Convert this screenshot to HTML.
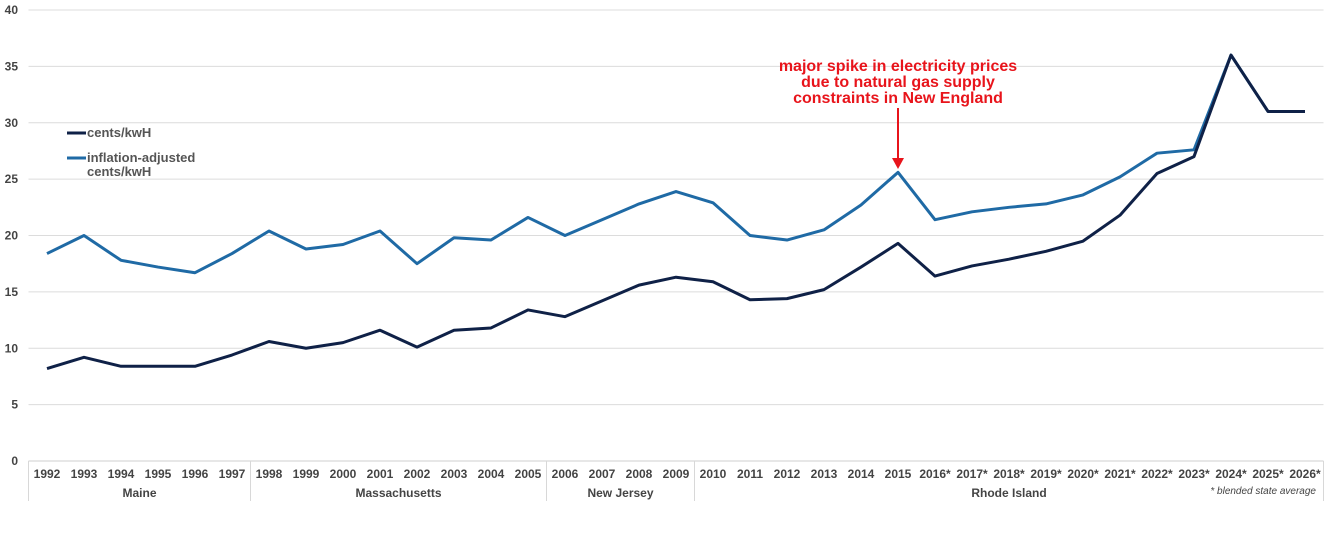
<!DOCTYPE html>
<html><head><meta charset="utf-8"><style>
body{margin:0;background:#fff;}
svg{display:block;font-family:"Liberation Sans",Arial,sans-serif;}
</style></head><body>
<svg id="chart" width="1331" height="541"></svg>
<script>
const categories=["1992","1993","1994","1995","1996","1997","1998","1999","2000","2001","2002","2003","2004","2005","2006","2007","2008","2009","2010","2011","2012","2013","2014","2015","2016*","2017*","2018*","2019*","2020*","2021*","2022*","2023*","2024*","2025*","2026*"];
const centsValues=[8.2,9.2,8.4,8.4,8.4,9.4,10.6,10.0,10.5,11.6,10.1,11.6,11.8,13.4,12.8,14.2,15.6,16.3,15.9,14.3,14.4,15.2,17.2,19.3,16.4,17.3,17.9,18.6,19.5,21.8,25.5,27.0,36,31,31];
const adjustedValues=[18.4,20.0,17.8,17.2,16.7,18.4,20.4,18.8,19.2,20.4,17.5,19.8,19.6,21.6,20.0,21.4,22.8,23.9,22.9,20.0,19.6,20.5,22.7,25.6,21.4,22.1,22.5,22.8,23.6,25.2,27.3,27.6,36,31,31];
const yTicks=[0,5,10,15,20,25,30,35,40];
const groups=[{name:"Maine",start:0,end:5},{name:"Massachusetts",start:6,end:13},{name:"New Jersey",start:14,end:17},{name:"Rhode Island",start:18,end:34}];
const annotationIndex=23;

const svg=document.getElementById('chart');
const NS='http://www.w3.org/2000/svg';
const plotLeft=28.5,plotRight=1323.5,plotTop=10,plotBottom=461,yMax=40;
const step=(plotRight-plotLeft)/categories.length;
const xPos=i=>plotLeft+step*(i+0.5);
const yPos=v=>plotBottom-(v/yMax)*(plotBottom-plotTop);
function mk(tag,attrs,parent){const e=document.createElementNS(NS,tag);for(const k in attrs)e.setAttribute(k,attrs[k]);(parent||svg).appendChild(e);return e;}

yTicks.forEach(t=>{
  const g=mk('line',{x1:plotLeft,x2:plotRight,y1:yPos(t),y2:yPos(t),stroke:t===0?'#cfcfcf':'#dcdcdc','stroke-width':1});
  
  
  const l=mk('text',{x:18,y:yPos(t)+4,'text-anchor':'end','font-size':12,'font-weight':'bold',fill:'#444'});
  l.textContent=t;
  
  
});
categories.forEach((c,i)=>{
  const t=mk('text',{x:xPos(i),y:478,'text-anchor':'middle','font-size':12,'font-weight':'bold',fill:'#444'});
  t.textContent=c;
  
  
});
groups.forEach(gr=>{
  const x0=plotLeft+step*gr.start,x1=plotLeft+step*(gr.end+1);
  [x0,x1].forEach(xx=>{const s=mk('line',{x1:xx,x2:xx,y1:plotBottom,y2:501,stroke:'#d8d8d8','stroke-width':1});
    
    });
  const t=mk('text',{x:(x0+x1)/2,y:497,'text-anchor':'middle','font-size':12,'font-weight':'bold',fill:'#444'});
  t.textContent=gr.name;
  
  
});
function drawLine(vals,color,name){
  const p=mk('polyline',{points:vals.map((v,i)=>xPos(i)+','+yPos(v)).join(' '),fill:'none',stroke:color,'stroke-width':3,'stroke-linejoin':'round'});
  
  
}
drawLine(adjustedValues,'#1f6aa5','inflation-adjusted-line');
drawLine(centsValues,'#0f2147','cents-line');

const fn=mk('text',{x:1316,y:494,'text-anchor':'end','font-size':10,'font-style':'italic',fill:'#444'});
fn.textContent='* blended state average';



const lg=mk('g',{});


mk('line',{x1:67,x2:86,y1:133,y2:133,stroke:'#0f2147','stroke-width':3},lg);
const l1=mk('text',{x:87,y:137,'font-size':13,'font-weight':'bold',fill:'#555'},lg);l1.textContent='cents/kwH';
mk('line',{x1:67,x2:86,y1:158,y2:158,stroke:'#1f6aa5','stroke-width':3},lg);
const l2=mk('text',{x:87,y:162,'font-size':13,'font-weight':'bold',fill:'#555'},lg);l2.textContent='inflation-adjusted';
const l3=mk('text',{x:87,y:176,'font-size':13,'font-weight':'bold',fill:'#555'},lg);l3.textContent='cents/kwH';

const an=mk('g',{});


const ax=xPos(annotationIndex);
['major spike in electricity prices','due to natural gas supply','constraints in New England'].forEach((s,k)=>{
  const t=mk('text',{x:ax,y:71+k*16,'text-anchor':'middle','font-size':16,'font-weight':'bold',fill:'#e8141b'},an);t.textContent=s;});
mk('line',{x1:ax,x2:ax,y1:108,y2:160,stroke:'#e8141b','stroke-width':2},an);
mk('polygon',{points:`${ax-6},158 ${ax+6},158 ${ax},169`,fill:'#e8141b'},an);
</script>
</body></html>
